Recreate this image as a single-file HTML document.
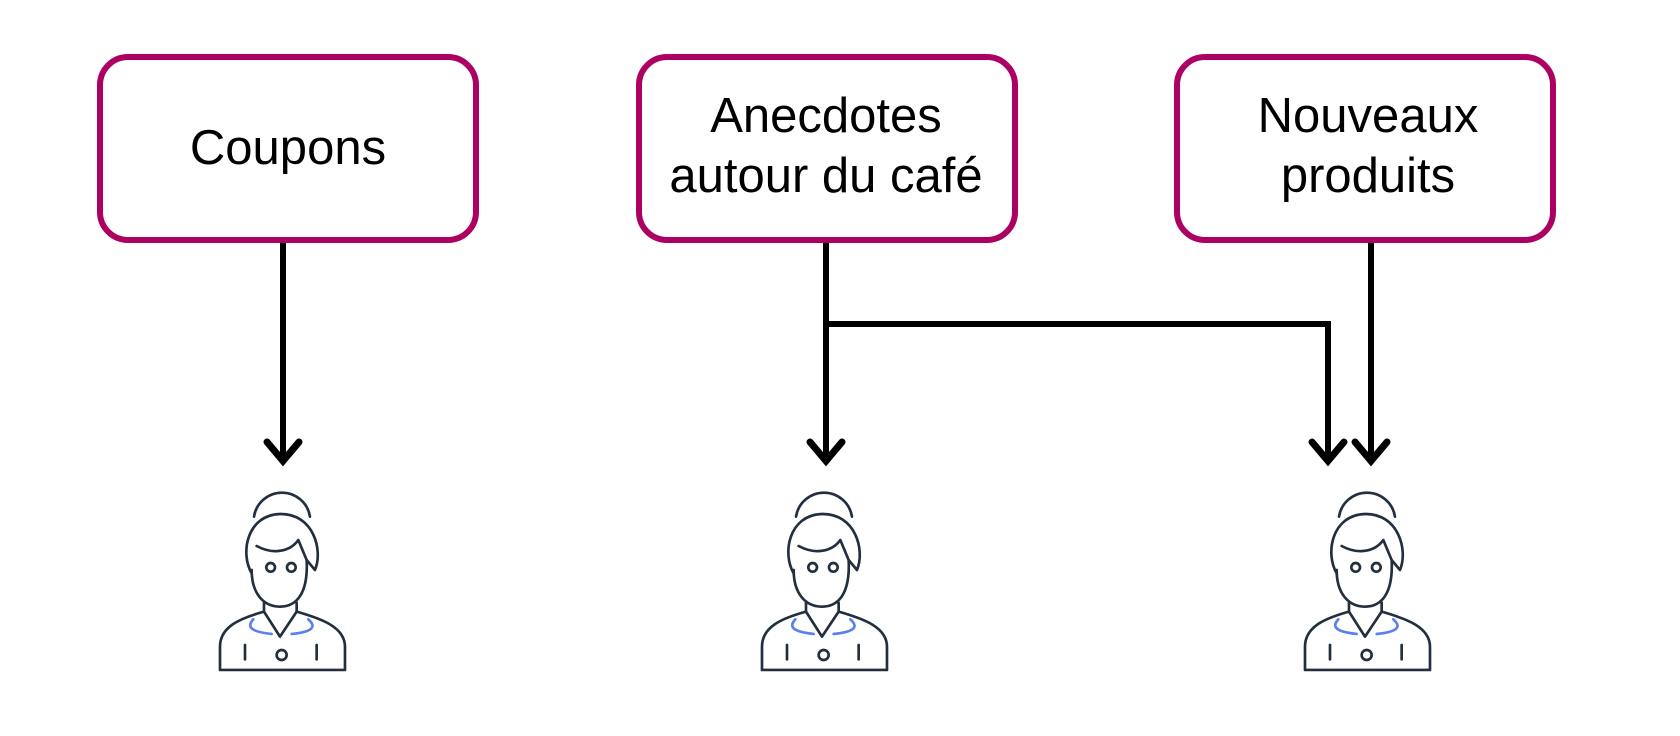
<!DOCTYPE html>
<html><head><meta charset="utf-8"><style>
html,body{margin:0;padding:0;background:#fff;}
svg{display:block}
text{font-family:"Liberation Sans","DejaVu Sans",sans-serif;font-size:49px;fill:#000;text-anchor:middle}
</style></head><body>
<svg width="1680" height="736" viewBox="0 0 1680 736" xmlns="http://www.w3.org/2000/svg">
<defs>
<g id="p" fill="none" stroke="#232f3e" stroke-width="8" stroke-linecap="round" stroke-linejoin="round">
  <path d="M222,170 A85,85 0 0 1 390,170"/>
  <path d="M215,340 C180,280 200,165 300,162 C400,160 430,270 405,330 L380,300 L355,240 C330,275 280,285 230,258"/>
  <path d="M215,330 C215,400 250,440 300,440 C350,440 385,400 380,300"/>
  <circle cx="272" cy="322" r="13"/><circle cx="334" cy="322" r="13"/>
  <path d="M252,428 L252,455 L300,530 L350,455 L350,428"/>
  <path d="M252,455 C180,475 120,500 120,560 L120,630 L495,630 L495,560 C495,500 420,475 350,455"/>
  <path d="M220,478 C200,500 210,515 275,522 M385,478 C410,500 400,515 335,522" stroke="#5a7ff0"/>
  <path d="M195,555 L195,598 M410,555 L410,598"/>
  <circle cx="305" cy="585" r="15"/>
</g>
</defs>
<g fill="#fff" stroke="#ad0063" stroke-width="6">
<rect x="100" y="57" width="376" height="183" rx="28"/>
<rect x="639" y="57" width="376" height="183" rx="28"/>
<rect x="1177" y="57" width="376" height="183" rx="28"/>
</g>
<text x="288" y="164">Coupons</text>
<text x="826" y="132">Anecdotes</text>
<text x="826" y="192">autour du café</text>
<text x="1368" y="132">Nouveaux</text>
<text x="1368" y="192">produits</text>
<g fill="none" stroke="#000" stroke-width="6">
<path d="M283,243 L283,457"/>
<path d="M826,243 L826,457"/>
<path d="M826,324 L1328,324 L1328,457"/>
<path d="M1371,243 L1371,457"/>
</g>
<g fill="none" stroke="#000" stroke-width="7" stroke-linecap="round" stroke-linejoin="miter">
<path d="M267,442 L283,461 L299,442"/>
<path d="M810,442 L826,461 L842,442"/>
<path d="M1312,442 L1328,461 L1344,442"/>
<path d="M1355,442 L1371,461 L1387,442"/>
</g>
<g transform="translate(180,460) scale(0.3333)"><use href="#p"/></g>
<g transform="translate(722,460) scale(0.3333)"><use href="#p"/></g>
<g transform="translate(1265,460) scale(0.3333)"><use href="#p"/></g>
</svg>
</body></html>
